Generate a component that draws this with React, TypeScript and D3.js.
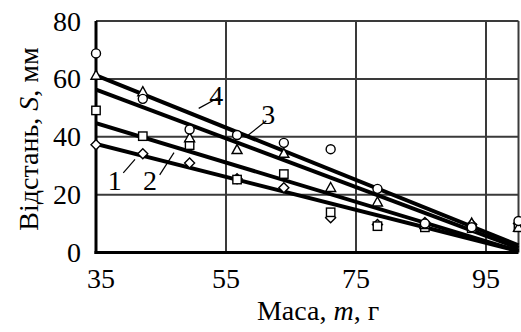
import React from "react";
import * as d3 from "d3";

// Mass of the sample, g
const mass = [35, 42.2, 49.4, 56.7, 63.9, 71.1, 78.3, 85.6, 92.8, 100];
// Measured distance S, mm, for each series
const series1 = [37.2, 34.1, 30.9, 25.5, 22.4, 12, 9.7, 10.4, 9.7, 10];
const series2 = [49.1, 40.2, 37.1, 25.2, 27.1, 13.9, 9.1, 8.7, 8.4, 8.7];
const series3 = [61.1, 55.4, 39.5, 35.4, 34.1, 22.3, 17.3, 9.5, 10, 8.5];
const series4 = [68.8, 53.1, 42.5, 40.6, 37.9, 35.7, 22, 10, 8.7, 10.9];
// Linear trend for each series: value at m = 35 and at m = 100
const trendStart = [37.5, 44.7, 56.3, 61.2];
const trendEnd = [0.5, 0.5, 1.5, 2.5];
const trendNames = ["1", "2", "3", "4"];

const xTicks = [35, 55, 75, 95];
const yTicks = [0, 20, 40, 60, 80];

const W = 521;
const H = 332;

const x = d3.scaleLinear().domain([35, 100]).range([96, 518.5]);
const y = d3.scaleLinear().domain([0, 80]).range([252.5, 21]);

const textStyle = { fontFamily: "Liberation Serif" };

type Marker = "diamond" | "square" | "triangle" | "circle";
const markerKinds: Marker[] = ["diamond", "square", "triangle", "circle"];
const seriesData = [series1, series2, series3, series4];

function MarkerShape({ kind, cx, cy }: { kind: Marker; cx: number; cy: number }) {
  const common = { fill: "#fff", stroke: "#000", strokeWidth: 1.4 };
  if (kind === "circle") return <circle cx={cx} cy={cy} r={4.5} {...common} />;
  if (kind === "square")
    return <rect x={cx - 4.2} y={cy - 4.2} width={8.4} height={8.4} {...common} />;
  if (kind === "triangle")
    return (
      <path d={`M${cx},${cy - 5.5}L${cx + 5},${cy + 3.5}L${cx - 5},${cy + 3.5}Z`} {...common} />
    );
  return (
    <path d={`M${cx},${cy - 5}L${cx + 5},${cy}L${cx},${cy + 5}L${cx - 5},${cy}Z`} {...common} />
  );
}

// Positions of the series labels and their leader lines, in data units
const labelPos = [
  { tx: 37.9, ty: 21.5, x1: 39.2, y1: 27.5, x2: 41.0, y2: 32.2 },
  { tx: 43.3, ty: 21.5, x1: 44.8, y1: 26.8, x2: 47.0, y2: 34.5 },
  { tx: 61.5, ty: 44.3, x1: 61.2, y1: 45.5, x2: 58.0, y2: 39.8 },
  { tx: 53.5, ty: 51.0, x1: 53.8, y1: 53.5, x2: 50.8, y2: 49.8 },
];

export default function App() {
  const line = d3
    .line<[number, number]>()
    .x((d) => x(d[0]))
    .y((d) => y(d[1]));

  return (
    <svg
      width={W}
      height={H}
      style={{ position: "absolute", left: 0, top: 0, background: "#fff" }}
    >
      <defs>
        <clipPath id="plot">
          <rect x={x(35)} y={y(80) - 2} width={x(100) - x(35) + 2} height={y(0) - y(80) + 2} />
        </clipPath>
      </defs>

      {/* grid */}
      {xTicks.slice(1).map((t) => (
        <line key={"gx" + t} x1={x(t)} x2={x(t)} y1={y(0)} y2={y(80)} stroke="#3a3a3a" strokeWidth={2} />
      ))}
      <line x1={x(100)} x2={x(100)} y1={y(0)} y2={y(80)} stroke="#3a3a3a" strokeWidth={2} />
      {yTicks.slice(1).map((t) => (
        <line key={"gy" + t} x1={x(35)} x2={x(100)} y1={y(t)} y2={y(t)} stroke="#3a3a3a" strokeWidth={2} />
      ))}

      {/* trend lines */}
      <g clipPath="url(#plot)">
        {trendStart.map((s, i) => (
          <path
            key={"tr" + i}
            d={line([
              [35, s],
              [100, trendEnd[i]],
            ]) as string}
            fill="none"
            stroke="#000"
            strokeWidth={4}
          />
        ))}
      </g>

      {/* axes */}
      <line x1={x(35)} x2={x(35)} y1={y(0) + 1.5} y2={y(80)} stroke="#000" strokeWidth={3} />
      <line x1={x(35) - 1.5} x2={x(100)} y1={y(0)} y2={y(0)} stroke="#000" strokeWidth={3} />

      {/* measured points */}
      {seriesData.map((vals, si) =>
        vals.map((v, i) => (
          <MarkerShape key={`m${si}-${i}`} kind={markerKinds[si]} cx={x(mass[i])} cy={y(v)} />
        ))
      )}

      {/* series labels */}
      {labelPos.map((p, i) => (
        <g key={"lb" + i}>
          <line x1={x(p.x1)} y1={y(p.y1)} x2={x(p.x2)} y2={y(p.y2)} stroke="#000" strokeWidth={1.2} />
          <text x={x(p.tx)} y={y(p.ty)} fontSize={28} textAnchor="middle" style={textStyle}>
            {trendNames[i]}
          </text>
        </g>
      ))}

      {/* tick labels */}
      {yTicks.map((t) => (
        <text key={"yt" + t} x={81} y={y(t)} dy="0.34em" fontSize={28} textAnchor="end" style={textStyle}>
          {t}
        </text>
      ))}
      {xTicks.map((t, i) => (
        <text
          key={"xt" + t}
          x={x(t) + (i === 0 ? 5 : 0)}
          y={288}
          fontSize={28}
          textAnchor="middle"
          style={textStyle}
        >
          {t}
        </text>
      ))}

      {/* axis titles */}
      <text x={318} y={320} fontSize={28} textAnchor="middle" style={textStyle}>
        Маса, <tspan fontStyle="italic">m</tspan>, г
      </text>
      <text
        transform={`translate(38, ${139}) rotate(-90)`}
        fontSize={28}
        textAnchor="middle"
        style={textStyle}
      >
        Відстань, <tspan fontStyle="italic">S</tspan>, мм
      </text>
    </svg>
  );
}
